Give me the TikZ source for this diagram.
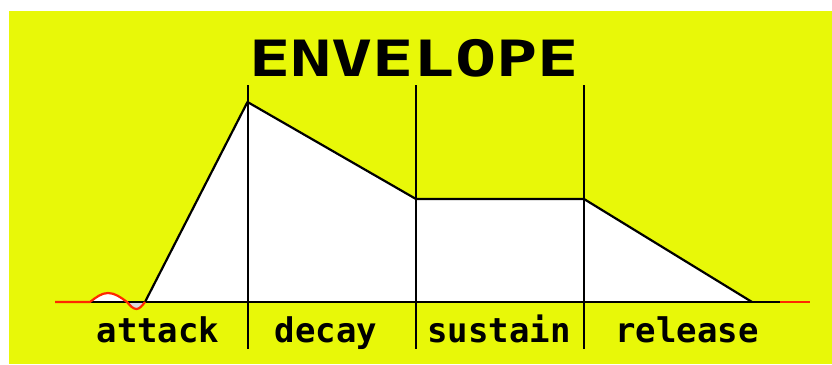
\documentclass[tikz,border=0pt]{standalone}
\usepackage{fontspec}
\newfontfamily\pixelfont{DejaVu Sans Mono}
\definecolor{screenyellow}{RGB}{232,248,8}
\definecolor{wavered}{RGB}{255,40,0}

\begin{document}
\begin{tikzpicture}[x=1pt, y=-1pt,
  stagelabel/.style={font=\pixelfont\bfseries\fontsize{34}{34}\selectfont, anchor=base, inner sep=0pt},
  headline/.style={font=\pixelfont\bfseries\fontsize{50}{50}\selectfont, inner sep=0pt, xscale=1.37},
  env/.style={line width=2.2pt, line join=round},
  divider/.style={line width=2pt},
  wave/.style={draw=wavered, line width=2.2pt, line join=round}
]
\useasboundingbox (0,0) rectangle (832,364);
\fill[screenyellow] (9,11) rectangle (832,364);
% envelope points
\coordinate (start) at (145,302);
\coordinate (peak) at (247.5,102);
\coordinate (hold) at (416,199);
\coordinate (fall) at (584,199);
\coordinate (stop) at (752,302);
\coordinate (baseL) at (90,302);
\coordinate (baseR) at (780,302);
\coordinate (redL) at (55,302);
\coordinate (redR) at (810,302);
\coordinate (zero) at (127,302);
\filldraw[fill=white, env] (start) -- (peak) -- (hold) -- (fall) -- (stop);
% little wobble before the attack
\fill[white] (baseL) sin (108,293) cos (zero);
\fill[gray!30] (zero) sin (136.5,309) cos (start);
\draw[env] (baseL) -- (baseR);
\draw[wave] (redL) -- (baseL) sin (108,293) cos (zero) sin (136.5,309) cos (start);
\draw[wave] (baseR) -- (redR);
\foreach \x in {247.5,416,584}
  \draw[divider] (\x,85) -- (\x,349);
\node[headline] (envtitle) at (414,58.5) {ENVELOPE};
\node[stagelabel] (attack) at (158,342) {attack};
\node[stagelabel] (decay) at (326,342) {decay};
\node[stagelabel] (sustain) at (499,342) {sustain};
\node[stagelabel] (release) at (687,342) {release};
\end{tikzpicture}
\end{document}
